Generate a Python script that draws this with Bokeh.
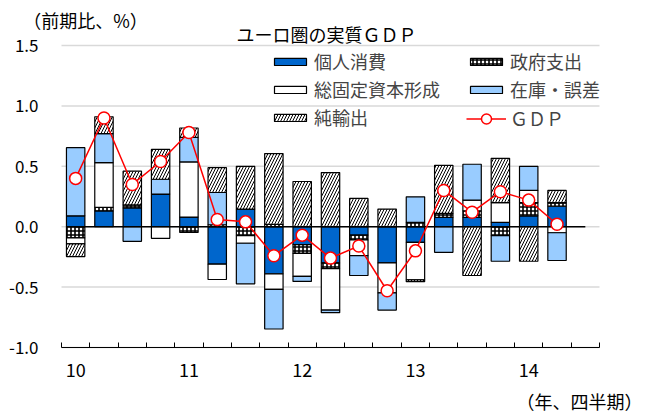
from bokeh.plotting import figure
from bokeh.models import (ColumnDataSource, FixedTicker, NumeralTickFormatter, Legend,
                          LegendItem, Label, Range1d)
from bokeh.embed import file_html
from bokeh.resources import INLINE

# ---- data (contributions to q/q real GDP growth, %pt) ----
quarters = ["10Q1", "10Q2", "10Q3", "10Q4", "11Q1", "11Q2", "11Q3", "11Q4",
            "12Q1", "12Q2", "12Q3", "12Q4", "13Q1", "13Q2", "13Q3", "13Q4",
            "14Q1", "14Q2", "14Q3"]
year_labels = ["10", "11", "12", "13", "14"]
year_first_idx = [0, 4, 8, 12, 16]
y_ticks = [-1.0, -0.5, 0.0, 0.5, 1.0, 1.5]

consumption = [0.09, 0.13, 0.155, 0.27, 0.08, -0.31, 0.146, -0.39, -0.148, -0.30,
               -0.069, -0.30, -0.129, 0.077, 0.077, 0.036, 0.09, 0.17]
government = [-0.093, 0.03, 0.025, 0.0, -0.047, 0.016, -0.074, 0.02, -0.072, -0.047,
              -0.041, 0.0, 0.036, 0.033, 0.055, -0.074, 0.11, 0.03]
investment = [-0.05, 0.37, 0.0, -0.096, 0.456, -0.127, -0.063, -0.129, -0.192, -0.343,
              -0.129, -0.248, -0.311, 0.0, 0.088, 0.164, 0.10, -0.05]
inventory = [0.564, 0.24, -0.121, 0.123, 0.204, 0.267, -0.336, -0.328, -0.041, -0.022,
             -0.165, -0.142, 0.211, -0.212, 0.297, -0.212, 0.20, -0.23]
net_exports = [-0.104, 0.14, 0.28, 0.247, 0.077, 0.206, 0.354, 0.585, 0.374, 0.448,
               0.234, 0.146, -0.015, 0.398, -0.404, 0.366, -0.286, 0.10]
gdp = [0.40, 0.90, 0.35, 0.54, 0.78, 0.06, 0.04, -0.24, -0.07, -0.26,
       -0.16, -0.53, -0.20, 0.30, 0.12, 0.29, 0.22, 0.02]

series_names = ["個人消費", "政府支出", "総固定資本形成", "在庫・誤差", "純輸出"]
series_values = [consumption, government, investment, inventory, net_exports]
gdp_name = "ＧＤＰ"
title_text = "ユーロ圏の実質ＧＤＰ"
y_unit_text = "（前期比、%）"
x_unit_text = "（年、四半期）"

FONT = "Noto Sans CJK JP"

# ---- layout (pixels) ----
W, H = 648, 412
PL, PR, PT, PB = 61, 599, 45, 347      # plot-area edges on the canvas

n_slots = len(quarters)
x_lo, x_hi = -0.5, n_slots - 0.5
y_lo, y_hi = min(y_ticks), max(y_ticks)
ppx = (PR - PL) / (x_hi - x_lo)
ppy = (PB - PT) / (y_hi - y_lo)
x_range = Range1d(x_lo - PL / ppx, x_hi + (W - PR) / ppx)
y_range = Range1d(y_lo - (H - PB) / ppy, y_hi + PT / ppy)

x_bar = list(range(len(gdp)))
x_all = list(range(n_slots))

p = figure(width=W, height=H, output_backend="svg", toolbar_location=None,
           x_range=x_range, y_range=y_range, title=None,
           min_border_left=0, min_border_right=0, min_border_top=0, min_border_bottom=0)
p.min_border = 0
p.outline_line_color = None
p.background_fill_color = "white"
p.border_fill_color = "white"
p.xgrid.grid_line_color = None
p.ygrid.grid_line_color = None

# horizontal gridlines limited to the plot area
p.segment(x0=[x_lo] * len(y_ticks), x1=[x_hi] * len(y_ticks), y0=y_ticks, y1=y_ticks,
          line_color="#d9d9d9", line_width=1.5)

# y axis (inside the full-canvas frame)
p.yaxis.fixed_location = x_lo
p.yaxis.ticker = FixedTicker(ticks=y_ticks)
p.yaxis.formatter = NumeralTickFormatter(format="0.0")
p.yaxis.axis_line_color = None
p.yaxis.major_tick_line_color = None
p.yaxis.minor_tick_line_color = None
p.yaxis.major_label_standoff = 17
p.yaxis.major_label_text_font = FONT
p.yaxis.major_label_text_font_size = "17px"
p.yaxis.major_label_text_color = "black"

# x axis
minor = [i - 0.5 for i in range(n_slots + 1)]
p.xaxis.fixed_location = y_lo
p.xaxis.bounds = (x_lo, x_hi)
p.xaxis.ticker = FixedTicker(ticks=year_first_idx, minor_ticks=minor)
p.xaxis.major_label_overrides = {i: s for i, s in zip(year_first_idx, year_labels)}
p.xaxis.major_tick_in = 0
p.xaxis.major_tick_out = 0
p.xaxis.minor_tick_in = 5
p.xaxis.minor_tick_out = 0
p.xaxis.minor_tick_line_color = "black"
p.xaxis.axis_line_color = "black"
p.xaxis.axis_line_width = 1.2
p.xaxis.major_label_standoff = 15
p.xaxis.major_label_text_font = FONT
p.xaxis.major_label_text_font_size = "18px"
p.xaxis.major_label_text_color = "black"

# stacked bars: positives stacked upward, negatives downward
styles = [
    dict(fill_color="#0066cc"),
    dict(fill_color="white", hatch_pattern="+", hatch_color="black", hatch_scale=4, hatch_weight=1.6),
    dict(fill_color="white"),
    dict(fill_color="#99ccff"),
    dict(fill_color="white", hatch_pattern="/", hatch_color="black", hatch_scale=6, hatch_weight=1),
]
pos = [0.0] * len(gdp)
neg = [0.0] * len(gdp)
bar_renderers = []
for name, vals, st in zip(series_names, series_values, styles):
    bottoms, tops = [], []
    for i, v in enumerate(vals):
        if v >= 0:
            bottoms.append(pos[i]); tops.append(pos[i] + v); pos[i] += v
        else:
            bottoms.append(neg[i]); tops.append(neg[i] + v); neg[i] += v
    src = ColumnDataSource(dict(x=x_bar, bottom=bottoms, top=tops))
    r = p.vbar(x="x", bottom="bottom", top="top", width=0.65, source=src,
               line_color="black", line_width=1.2, **st)
    bar_renderers.append(r)

# zero line across all quarter slots
p.line(x_all, [0.0] * n_slots, line_color="black", line_width=1.5)

# GDP line
gl = p.line(x_bar, gdp, line_color="#ff0000", line_width=1.5)
gs = p.scatter(x_bar, gdp, size=12, marker="circle", fill_color="white",
               line_color="#ff0000", line_width=1.5)

leg_common = dict(glyph_width=40, glyph_height=9, label_standoff=4, spacing=2, padding=0,
                  margin=0, border_line_color=None, background_fill_alpha=0,
                  label_text_font=FONT, label_text_font_size="18px", label_height=20)
leg1 = Legend(items=[LegendItem(label=series_names[0], renderers=[bar_renderers[0]]),
                     LegendItem(label=series_names[2], renderers=[bar_renderers[2]]),
                     LegendItem(label=series_names[4], renderers=[bar_renderers[4]])],
              location=(270, 282), **leg_common)
leg2 = Legend(items=[LegendItem(label=series_names[1], renderers=[bar_renderers[1]]),
                     LegendItem(label=series_names[3], renderers=[bar_renderers[3]])],
              location=(466, 310), **leg_common)
leg3_opts = dict(leg_common)
leg3_opts["glyph_height"] = 25
leg3 = Legend(items=[LegendItem(label=gdp_name, renderers=[gl, gs])],
              location=(466, 281), **leg3_opts)
for lg in (leg1, leg2, leg3):
    p.add_layout(lg, "center")

def add_text(txt, sx, sy, align, size):
    p.add_layout(Label(x=sx, y=H - sy, x_units="screen", y_units="screen", text=txt,
                       text_align=align, text_baseline="middle", text_font=FONT,
                       text_font_size=size, text_color="black"))

add_text(title_text, 326, 33, "center", "18px")
add_text(y_unit_text, 85, 19, "center", "18px")
add_text(x_unit_text, 579, 400, "center", "18px")

open("out.html", "w").write(file_html(p, INLINE))
